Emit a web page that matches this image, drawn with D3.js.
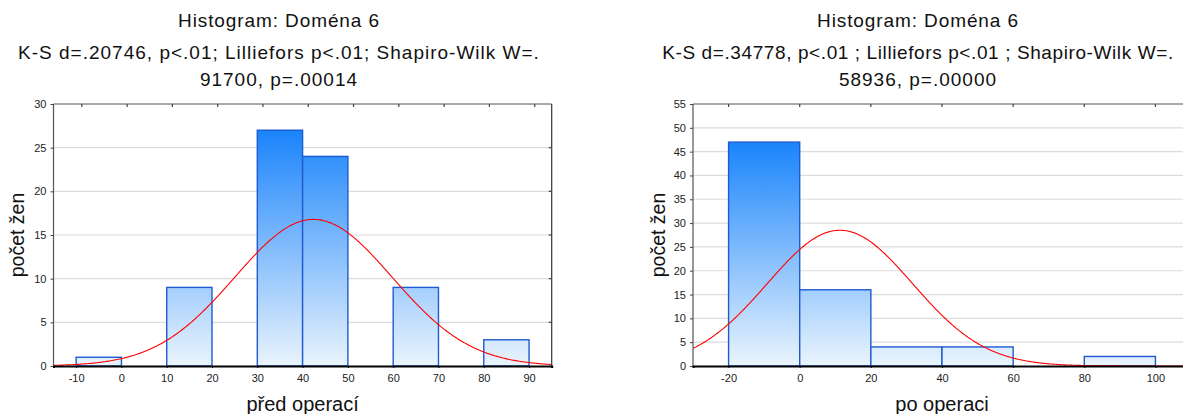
<!DOCTYPE html>
<html><head><meta charset="utf-8">
<script src="https://cdn.jsdelivr.net/npm/d3@7"></script>
<style>
html,body{margin:0;padding:0;background:#fff;overflow:hidden;}
text{font-family:"Liberation Sans",Arial,sans-serif;}
</style></head>
<body>
<svg id="c" width="1183" height="414"></svg>
<script>
// ---- data: left chart (před operací)
const leftBinStarts = [-10, 10, 30, 40, 60, 80];
const leftCounts    = [1, 9, 27, 24, 9, 3];
const leftXTicks    = [-10, 0, 10, 20, 30, 40, 50, 60, 70, 80, 90];
const leftYTicks    = [0, 5, 10, 15, 20, 25, 30];
const leftTitle     = ["Histogram: Doména 6", "K-S d=.20746, p<.01; Lilliefors p<.01; Shapiro-Wilk W=.", "91700, p=.00014"];
const leftXLabel    = "před operací";
const leftNormal    = {mean: 42.4, sd: 17.35, n: 73, bin: 10};

// ---- data: right chart (po operaci)
const rightBinStarts = [-20, 0, 20, 40, 80];
const rightCounts    = [47, 16, 4, 4, 2];
const rightXTicks    = [-20, 0, 20, 40, 60, 80, 100];
const rightYTicks    = [0, 5, 10, 15, 20, 25, 30, 35, 40, 45, 50, 55];
const rightTitle     = ["Histogram: Doména 6", "K-S d=.34778, p<.01 ; Lilliefors p<.01 ; Shapiro-Wilk W=.", "58936, p=.00000"];
const rightXLabel    = "po operaci";
const rightNormal    = {mean: 11.3, sd: 20.44, n: 73, bin: 20};

const yLabel = "počet žen";

const svg = d3.select("#c");
const fmt = d => String(d);

function drawHist(o){
  const g = svg.append("g");
  const x = d3.scaleLinear().domain(o.xDomain).range([o.left, o.right]);
  const y = d3.scaleLinear().domain(o.yDomain).range([o.bottom, o.top]);
  const clipId = "clip" + o.id;
  svg.append("clipPath").attr("id", clipId).append("rect")
    .attr("x", o.left).attr("y", o.top).attr("width", o.right - o.left).attr("height", o.bottom - o.top);

  const maxC = d3.max(o.counts);
  const grad = svg.append("defs").append("linearGradient").attr("id", "grad" + o.id)
    .attr("gradientUnits", "userSpaceOnUse")
    .attr("x1", 0).attr("x2", 0).attr("y1", y(0)).attr("y2", y(maxC));
  grad.append("stop").attr("offset", 0).attr("stop-color", "#eaf4fd");
  grad.append("stop").attr("offset", 1).attr("stop-color", "#1a84fb");

  // gridlines
  g.append("g").selectAll("line").data(o.yTicks.filter(v => v > o.yDomain[0] && v < o.yDomain[1]))
    .join("line").attr("x1", o.left).attr("x2", o.right)
    .attr("y1", d => y(d)).attr("y2", d => y(d))
    .attr("stroke", "#dcdcdc").attr("stroke-width", 1.2);

  // bars
  g.append("g").selectAll("rect").data(o.binStarts.map((s, i) => ({s, c: o.counts[i]})))
    .join("rect")
    .attr("x", d => x(d.s)).attr("width", d => x(d.s + o.normal.bin) - x(d.s))
    .attr("y", d => y(d.c)).attr("height", d => y(0) - y(d.c))
    .attr("fill", "url(#grad" + o.id + ")")
    .attr("stroke", "#1f5bd0").attr("stroke-width", 1.4);

  // normal curve
  const N = o.normal;
  const pts = d3.range(0, 401).map(i => o.xDomain[0] + (o.xDomain[1] - o.xDomain[0]) * i / 400);
  const f = v => N.n * N.bin / (N.sd * Math.sqrt(2 * Math.PI)) * Math.exp(-((v - N.mean) ** 2) / (2 * N.sd * N.sd));
  g.append("path").datum(pts)
    .attr("d", d3.line().x(v => x(v)).y(v => y(f(v))))
    .attr("fill", "none").attr("stroke", "#ff0000").attr("stroke-width", 1.1)
    .attr("clip-path", "url(#" + clipId + ")");

  // frame
  g.append("line").attr("x1", o.left).attr("x2", o.right).attr("y1", o.top).attr("y2", o.top).attr("stroke", "#555").attr("stroke-width", 1.2);
  g.append("line").attr("x1", o.left).attr("x2", o.left).attr("y1", o.top).attr("y2", o.bottom).attr("stroke", "#555").attr("stroke-width", 1.2);
  g.append("line").attr("x1", o.right).attr("x2", o.right).attr("y1", o.top).attr("y2", o.bottom).attr("stroke", "#333").attr("stroke-width", 1.2);

  // bottom axis
  const xa = g.append("g").attr("transform", `translate(0,${o.bottom})`)
    .call(d3.axisBottom(x).tickValues(o.xTicks).tickSize(2).tickPadding(6).tickFormat(fmt));
  xa.select(".domain").attr("stroke", "#000").attr("stroke-width", 2);
  xa.selectAll("text").attr("font-size", 11).attr("fill", "#222").attr("font-family", "Liberation Sans, Arial, sans-serif");

  // top ticks (inward)
  g.append("g").selectAll("line").data(o.topTicks).join("line")
    .attr("x1", d => x(d)).attr("x2", d => x(d)).attr("y1", o.top).attr("y2", o.top + 3)
    .attr("stroke", "#444").attr("stroke-width", 1.2);

  // left axis
  const ya = g.append("g").attr("transform", `translate(${o.left},0)`)
    .call(d3.axisLeft(y).tickValues(o.yTicks).tickSize(3).tickPadding(4).tickFormat(fmt));
  ya.select(".domain").remove();
  ya.selectAll("line").attr("stroke", "#444");
  ya.selectAll("text").attr("font-size", 11).attr("fill", "#222").attr("font-family", "Liberation Sans, Arial, sans-serif");

  // right ticks (inward)
  g.append("g").selectAll("line").data(o.yTicks.filter(v => v > o.yDomain[0] && v < o.yDomain[1])).join("line")
    .attr("x1", o.right - 3).attr("x2", o.right).attr("y1", d => y(d)).attr("y2", d => y(d))
    .attr("stroke", "#444").attr("stroke-width", 1.2);

  // titles
  o.title.forEach((t, i) => {
    g.append("text").attr("x", o.titleX).attr("y", o.titleY[i]).attr("text-anchor", "middle")
      .attr("font-size", 19).attr("letter-spacing", o.titleSpacing[i]).attr("fill", "#111").text(t);
  });

  // axis labels
  g.append("text").attr("x", (x.range()[0] + x.range()[1]) / 2).attr("y", 411)
    .attr("text-anchor", "middle").attr("font-size", 20).attr("fill", "#111").text(o.xLabel);
  g.append("text").attr("transform", `translate(${o.yLabelX},${(o.top + o.bottom) / 2}) rotate(-90)`)
    .attr("text-anchor", "middle").attr("font-size", 19.5).attr("fill", "#111").text(yLabel);
}

drawHist({
  id: "L", left: 53.5, right: 551.7, top: 104, bottom: 366,
  xDomain: [-15, 95], yDomain: [0, 30],
  binStarts: leftBinStarts, counts: leftCounts, xTicks: leftXTicks, yTicks: leftYTicks,
  topTicks: leftXTicks.map(v => v + 1.25),
  title: leftTitle, titleX: 279, titleY: [27, 59, 86], titleSpacing: [0.9, 1, 1],
  xLabel: leftXLabel, yLabelX: 24, normal: leftNormal
});
drawHist({
  id: "R", left: 693, right: 1191, top: 104, bottom: 366,
  xDomain: [-30, 110], yDomain: [0, 55],
  binStarts: rightBinStarts, counts: rightCounts, xTicks: rightXTicks, yTicks: rightYTicks,
  topTicks: rightXTicks,
  title: rightTitle, titleX: 918, titleY: [27, 59, 86], titleSpacing: [0.9, 0.6, 1],
  xLabel: rightXLabel, yLabelX: 665, normal: rightNormal
});
</script>
</body></html>
